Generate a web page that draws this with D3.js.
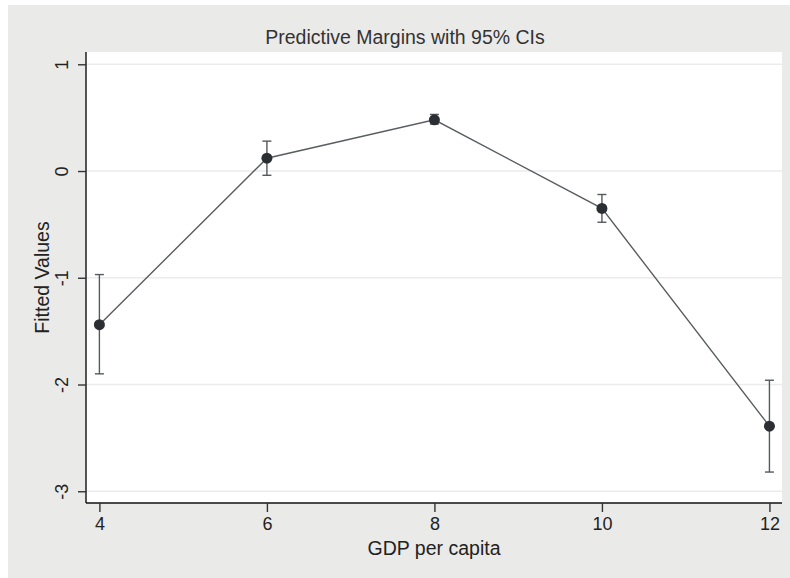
<!DOCTYPE html>
<html>
<head>
<meta charset="utf-8">
<script src="https://cdn.jsdelivr.net/npm/d3@7"></script>
<style>
  html, body { margin: 0; padding: 0; background: #ffffff; }
  svg { display: block; }
  text { font-family: "Liberation Sans", Arial, Helvetica, sans-serif; fill: #222; }
</style>
</head>
<body>
<svg id="chart" width="790" height="578"></svg>
<script>
// GDP per capita levels at which margins were computed
const gdpLevels = [4, 6, 8, 10, 12];
// Predicted (fitted) values and 95% confidence bounds
const fitted = [-1.44, 0.12, 0.48, -0.35, -2.39];
const ciLower = [-1.90, -0.04, 0.44, -0.48, -2.82];
const ciUpper = [-0.97, 0.28, 0.53, -0.22, -1.96];
// Axis ticks
const xTicks = [4, 6, 8, 10, 12];
const yTicks = [1, 0, -1, -2, -3];

const titleText = "Predictive Margins with 95% CIs";
const xTitle = "GDP per capita";
const yTitle = "Fitted Values";

const svg = d3.select("#chart");
const W = 790, H = 578;

// Outer graph region
svg.append("rect").attr("x", 8).attr("y", 5).attr("width", W - 8).attr("height", H - 5)
  .attr("fill", "#eaeae9");

// Plot region
const plot = { left: 86, right: 782, top: 52, bottom: 503 };
svg.append("rect").attr("x", plot.left).attr("y", plot.top)
  .attr("width", plot.right - plot.left).attr("height", plot.bottom - plot.top)
  .attr("fill", "#ffffff");

const x = d3.scaleLinear().domain([3.84, 12.15]).range([plot.left, plot.right]);
const y = d3.scaleLinear().domain([-3.11, 1.115]).range([plot.bottom, plot.top]);

// Plain hyphen-minus labels
const fmt = d => String(d);

// Horizontal grid lines
svg.append("g").selectAll("line").data(yTicks).join("line")
  .attr("x1", plot.left).attr("x2", plot.right)
  .attr("y1", d => y(d)).attr("y2", d => y(d))
  .attr("stroke", "#ebebeb").attr("stroke-width", 1.6);

// Y axis
const yAxis = svg.append("g").attr("transform", `translate(${plot.left},0)`)
  .call(d3.axisLeft(y).tickValues(yTicks).tickSize(8).tickPadding(0).tickFormat(fmt));
yAxis.select(".domain").attr("stroke", "#111").attr("stroke-width", 1.4)
  .attr("d", `M0,${plot.top}V${plot.bottom}`);
yAxis.selectAll(".tick line").attr("stroke", "#333").attr("stroke-width", 1.4);
yAxis.selectAll(".tick text")
  .attr("x", null).attr("dy", null)
  .attr("text-anchor", "middle")
  .attr("transform", "translate(-24,0) rotate(-90)")
  .attr("dy", "0.35em")
  .style("font-size", "18px").style("fill", "#222");

// X axis
const xAxis = svg.append("g").attr("transform", `translate(0,${plot.bottom})`)
  .call(d3.axisBottom(x).tickValues(xTicks).tickSize(9).tickPadding(5).tickFormat(fmt));
xAxis.select(".domain").attr("stroke", "#111").attr("stroke-width", 1.4)
  .attr("d", `M${plot.left},0H${plot.right}`);
xAxis.selectAll(".tick line").attr("stroke", "#333").attr("stroke-width", 1.4);
xAxis.selectAll(".tick text").style("font-size", "18px").style("fill", "#222");

// Titles
svg.append("text").attr("x", 405).attr("y", 44)
  .attr("text-anchor", "middle").style("font-size", "19.5px").style("fill", "#333")
  .text(titleText);
svg.append("text").attr("x", (plot.left + plot.right) / 2).attr("y", 555)
  .attr("text-anchor", "middle").style("font-size", "19.5px").style("fill", "#222")
  .text(xTitle);
svg.append("text")
  .attr("transform", `translate(49,${(plot.top + plot.bottom) / 2}) rotate(-90)`)
  .attr("text-anchor", "middle").style("font-size", "19.5px").style("fill", "#222")
  .text(yTitle);

const pts = gdpLevels.map((g, i) => ({ g, v: fitted[i], lo: ciLower[i], hi: ciUpper[i] }));

// Confidence intervals with caps
const ci = svg.append("g").attr("stroke", "#555a5e").attr("stroke-width", 1.4).attr("fill", "none");
ci.selectAll("line.bar").data(pts).join("line").attr("class", "bar")
  .attr("x1", d => x(d.g)).attr("x2", d => x(d.g))
  .attr("y1", d => y(d.lo)).attr("y2", d => y(d.hi));
ci.selectAll("line.capHi").data(pts).join("line").attr("class", "capHi")
  .attr("x1", d => x(d.g) - 4.5).attr("x2", d => x(d.g) + 4.5)
  .attr("y1", d => y(d.hi)).attr("y2", d => y(d.hi));
ci.selectAll("line.capLo").data(pts).join("line").attr("class", "capLo")
  .attr("x1", d => x(d.g) - 4.5).attr("x2", d => x(d.g) + 4.5)
  .attr("y1", d => y(d.lo)).attr("y2", d => y(d.lo));

// Connecting line
svg.append("path").datum(pts)
  .attr("fill", "none").attr("stroke", "#5a5d60").attr("stroke-width", 1.4)
  .attr("d", d3.line().x(d => x(d.g)).y(d => y(d.v)));

// Point estimates
svg.append("g").selectAll("circle").data(pts).join("circle")
  .attr("cx", d => x(d.g)).attr("cy", d => y(d.v)).attr("r", 5.5)
  .attr("fill", "#2b2f33");
</script>
</body>
</html>
